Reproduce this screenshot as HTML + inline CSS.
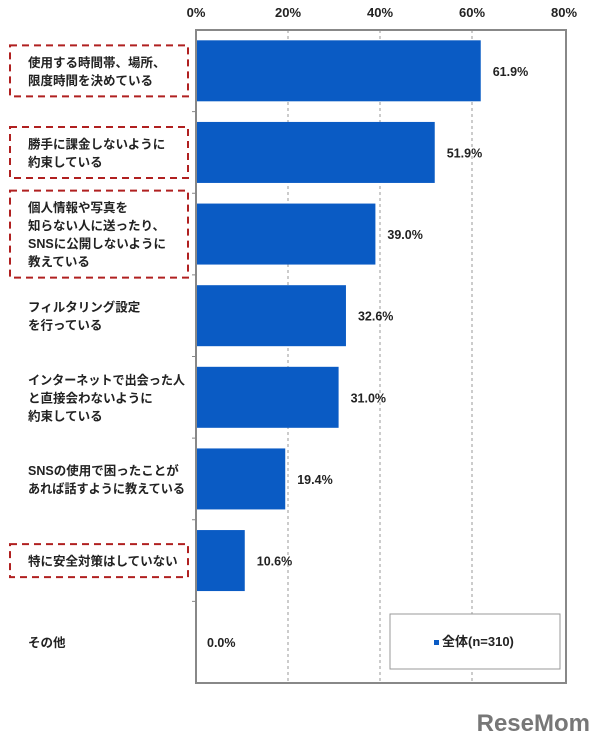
<!DOCTYPE html>
<html><head><meta charset="utf-8"><style>
body{margin:0;width:602px;height:746px;background:#fff;overflow:hidden;font-family:"Liberation Sans","Noto Sans CJK JP",sans-serif;}
svg text{font-family:"Liberation Sans","Noto Sans CJK JP",sans-serif;}
</style></head><body>
<svg id="chart" width="602" height="746"></svg>
<script>
const categories=[["使用する時間帯、場所、","限度時間を決めている"],["勝手に課金しないように","約束している"],["個人情報や写真を","知らない人に送ったり、","SNSに公開しないように","教えている"],["フィルタリング設定","を行っている"],["インターネットで出会った人","と直接会わないように","約束している"],["SNSの使用で困ったことが","あれば話すように教えている"],["特に安全対策はしていない"],["その他"]];
const values=[61.9,51.9,39.0,32.6,31.0,19.4,10.6,0.0];
const valueLabels=["61.9%","51.9%","39.0%","32.6%","31.0%","19.4%","10.6%","0.0%"];
const ticks=[0,20,40,60,80];
const highlighted=[true,true,true,false,false,false,true,false];
const NS="http://www.w3.org/2000/svg";
const svg=document.getElementById("chart");
const L=196,R=564,T=30,B=683;
const x=v=>L+(R-L)*v/80;
const band=(B-T)/categories.length;
const y=i=>T+band*i;
function mk(tag,a,p){const e=document.createElementNS(NS,tag);for(const k in a)e.setAttribute(k,a[k]);(p||svg).appendChild(e);return e;}
ticks.forEach((t,i)=>{
  if(t>0&&t<80){const g=mk("line",{x1:x(t),x2:x(t),y1:T,y2:B,stroke:"#999","stroke-dasharray":"3,3","stroke-width":1});
  
  }
  const tl=mk("text",{x:x(t),y:17,"text-anchor":"middle","font-size":13,"font-weight":"bold",fill:"#222"});
  tl.textContent=t+"%";
  
  
});
categories.forEach((c,i)=>{
  const cy=y(i)+band/2;
  const bh=61;
  if(values[i]>0){const b=mk("rect",{x:L,y:cy-bh/2,width:x(values[i])-L,height:bh,fill:"#0a5bc4"});
  
  }
  const vl=mk("text",{x:values[i]>0?x(values[i])+12:207,y:cy+5,"font-size":12.5,"font-weight":"bold",fill:"#222"});
  vl.textContent=valueLabels[i];
  
  
  if(i>0){const tk=mk("line",{x1:L-4,x2:L,y1:y(i),y2:y(i),stroke:"#888"});
  
  }
  const lh=18,n=c.length;
  c.forEach((ln,j)=>{
    const t=mk("text",{x:28,y:cy-(n-1)*lh/2+j*lh+5,"font-size":12.5,"font-weight":"bold",fill:"#222"});
    t.textContent=ln;
    
    
    const w=t.getComputedTextLength();
    if(w>157){t.setAttribute("textLength",157);t.setAttribute("lengthAdjust","spacingAndGlyphs");}
  });
  if(highlighted[i]){
    const h=n*lh+15;
    const bx=mk("rect",{x:10,y:cy-h/2,width:178,height:h,fill:"none",stroke:"#b02020","stroke-width":2,"stroke-dasharray":"7,5"});
    
    
  }
});
const fr=mk("rect",{x:L,y:T,width:R-L+2,height:B-T,fill:"none",stroke:"#888","stroke-width":2});


const lg=mk("rect",{x:390,y:614,width:170,height:55,fill:"#fff",stroke:"#999","stroke-width":1});


const ls=mk("rect",{x:434,y:640,width:5,height:5,fill:"#0a5bc4"});


const lt=mk("text",{x:442,y:646,"font-size":13,"font-weight":"bold",fill:"#222"});
lt.textContent="全体(n=310)";


const wm=mk("text",{x:590,y:731,"text-anchor":"end","font-size":24,"font-weight":"bold",fill:"#777"});
wm.textContent="ReseMom";


</script>
</body></html>
